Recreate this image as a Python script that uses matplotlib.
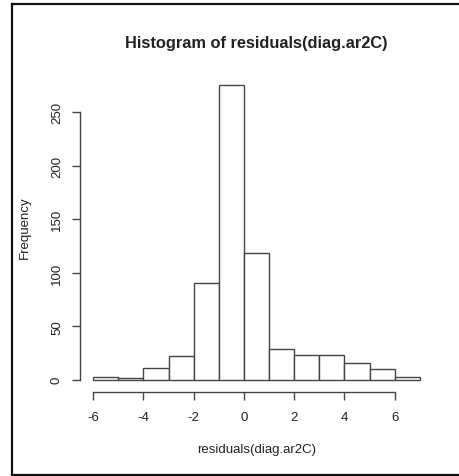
import matplotlib
matplotlib.use("Agg")
import matplotlib.pyplot as plt
from matplotlib.lines import Line2D
import numpy as np

plt.rcParams["font.family"] = ["Liberation Sans", "DejaVu Sans"]
plt.rcParams["axes.unicode_minus"] = False

# histogram of residuals, bins of width 1 from -6 to 7
bin_edges = np.arange(-6, 8, 1)
counts = [3, 2, 11, 22, 90, 275, 118, 29, 23, 23, 16, 10, 3]
x_ticks = [-6, -4, -2, 0, 2, 4, 6]
y_ticks = [0, 50, 100, 150, 200, 250]

title = "Histogram of residuals(diag.ar2C)"
xlabel = "residuals(diag.ar2C)"
ylabel = "Frequency"

W, H = 459, 477
fig = plt.figure(figsize=(W / 100, H / 100), dpi=100)
ax = fig.add_axes([80 / W, 1 - 392.5 / H, 353 / W, 318.1 / H])

line_col = "#444444"
text_col = "#222222"

ax.bar(bin_edges[:-1], counts, width=1, align="edge", color="white",
       edgecolor=line_col, linewidth=1.0)

# R-style padding of 4% on both axes
xr = bin_edges[-1] - bin_edges[0]
ax.set_xlim(bin_edges[0] - 0.04 * xr, bin_edges[-1] + 0.04 * xr)
yr = max(counts)
ax.set_ylim(-0.04 * yr, yr * 1.04)

for s in ["top", "right"]:
    ax.spines[s].set_visible(False)
ax.spines["left"].set_bounds(y_ticks[0], y_ticks[-1])
ax.spines["bottom"].set_bounds(x_ticks[0], x_ticks[-1])
for s in ["left", "bottom"]:
    ax.spines[s].set_color(line_col)
    ax.spines[s].set_linewidth(1.0)

ax.set_xticks(x_ticks)
ax.set_yticks(y_ticks)
ax.set_yticklabels([str(v) for v in y_ticks], rotation=90, va="center")
ax.tick_params(axis="both", length=5.8, width=1.0, color=line_col,
               labelsize=9.5, labelcolor=text_col)
ax.tick_params(axis="x", pad=8)
ax.tick_params(axis="y", pad=6.5)

ax.set_title(title, fontsize=11.8, fontweight="bold", color=text_col,
             x=0.5, y=1.0987, va="center", pad=0)
ax.set_xlabel(xlabel, fontsize=9.5, color=text_col)
ax.xaxis.set_label_coords(0.5, -0.181)
ax.xaxis.label.set_va("center")
ax.set_ylabel(ylabel, fontsize=9.5, color=text_col)
ax.yaxis.set_label_coords(-0.156, 0.517)
ax.yaxis.label.set_va("center")

# outer frame (right edge falls outside the picture)
frame_kw = dict(color="#111111", linewidth=1.6, transform=None)
fig.add_artist(Line2D([12, W], [H - 5, H - 5], **frame_kw))
fig.add_artist(Line2D([12, 12], [H - 5, H - 476], **frame_kw))
fig.add_artist(Line2D([12, W], [H - 476, H - 476], **frame_kw))

fig.savefig("out.png", dpi=100)
